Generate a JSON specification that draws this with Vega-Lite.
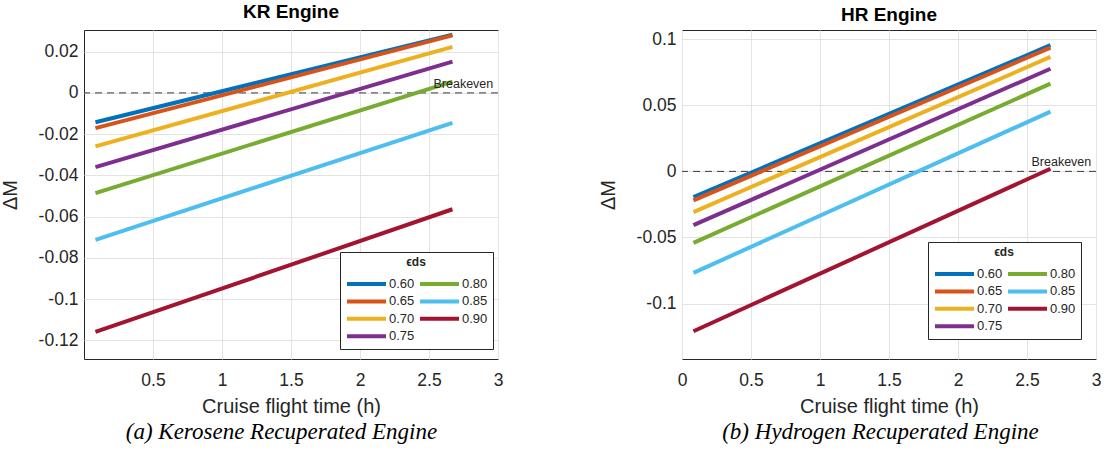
{
  "$schema": "https://vega.github.io/schema/vega-lite/v6.json",
  "padding": {"left": -1, "top": 2, "right": 5, "bottom": 5},
  "background": "white",
  "data": {"values": [
    {"engine": "KR", "eps": "0.60", "t": 0.083, "dM": -0.0142}, {"engine": "KR", "eps": "0.60", "t": 2.67, "dM": 0.0282},
    {"engine": "KR", "eps": "0.65", "t": 0.083, "dM": -0.0171}, {"engine": "KR", "eps": "0.65", "t": 2.67, "dM": 0.0279},
    {"engine": "KR", "eps": "0.70", "t": 0.083, "dM": -0.0259}, {"engine": "KR", "eps": "0.70", "t": 2.67, "dM": 0.0223},
    {"engine": "KR", "eps": "0.75", "t": 0.083, "dM": -0.0360}, {"engine": "KR", "eps": "0.75", "t": 2.67, "dM": 0.0152},
    {"engine": "KR", "eps": "0.80", "t": 0.083, "dM": -0.0486}, {"engine": "KR", "eps": "0.80", "t": 2.67, "dM": 0.0055},
    {"engine": "KR", "eps": "0.85", "t": 0.083, "dM": -0.0712}, {"engine": "KR", "eps": "0.85", "t": 2.67, "dM": -0.0145},
    {"engine": "KR", "eps": "0.90", "t": 0.083, "dM": -0.1159}, {"engine": "KR", "eps": "0.90", "t": 2.67, "dM": -0.0564},
    {"engine": "HR", "eps": "0.60", "t": 0.083, "dM": -0.0195}, {"engine": "HR", "eps": "0.60", "t": 2.67, "dM": 0.0955},
    {"engine": "HR", "eps": "0.65", "t": 0.083, "dM": -0.0220}, {"engine": "HR", "eps": "0.65", "t": 2.67, "dM": 0.0936},
    {"engine": "HR", "eps": "0.70", "t": 0.083, "dM": -0.0308}, {"engine": "HR", "eps": "0.70", "t": 2.67, "dM": 0.0866},
    {"engine": "HR", "eps": "0.75", "t": 0.083, "dM": -0.0407}, {"engine": "HR", "eps": "0.75", "t": 2.67, "dM": 0.0777},
    {"engine": "HR", "eps": "0.80", "t": 0.083, "dM": -0.0541}, {"engine": "HR", "eps": "0.80", "t": 2.67, "dM": 0.0664},
    {"engine": "HR", "eps": "0.85", "t": 0.083, "dM": -0.0768}, {"engine": "HR", "eps": "0.85", "t": 2.67, "dM": 0.0452},
    {"engine": "HR", "eps": "0.90", "t": 0.083, "dM": -0.1210}, {"engine": "HR", "eps": "0.90", "t": 2.67, "dM": 0.0020}
  ]},
  "config": {
    "font": "Liberation Sans",
    "view": {"stroke": "#262626", "strokeWidth": 1},
    "axis": {
      "domain": false, "ticks": false, "grid": true, "gridColor": "#e3e3e3", "labelFlush": false,
      "labelFont": "Liberation Sans", "labelFontSize": 17.5, "labelColor": "#262626",
      "titleFont": "Liberation Sans", "titleFontSize": 20, "titleFontWeight": "normal", "titleColor": "#262626"
    },
    "legend": {
      "orient": "none", "columns": 2,
      "titleFontSize": 12, "titleFontWeight": "bold", "titleAnchor": "middle", "titleAlign": "center", "titleColor": "#262626", "titlePadding": 8,
      "labelFontSize": 13, "labelColor": "#262626", "labelFont": "Liberation Sans",
      "symbolType": "stroke", "symbolStrokeWidth": 4, "symbolSize": 1521, "clipHeight": 14,
      "strokeColor": "#262626", "fillColor": "white", "padding": 5, "columnPadding": 3, "rowPadding": 3.4, "labelOffset": 1, "cornerRadius": 0
    },
    "title": {"font": "Liberation Sans", "fontSize": 19, "fontWeight": "bold", "color": "#000000"}
  },
  "spacing": 93,
  "resolve": {"scale": {"color": "independent"}, "legend": {"color": "independent"}},
  "hconcat": [
    {
      "title": {"text": "(a) Kerosene Recuperated Engine", "orient": "bottom", "font": "Liberation Serif", "fontStyle": "italic", "fontWeight": "normal", "fontSize": 23, "offset": 4, "anchor": "middle", "dx": 30},
      "vconcat": [
        {
          "width": 414, "height": 329,
          "title": {"text": "KR Engine", "frame": "group", "anchor": "middle", "offset": 5},
          "layer": [
            {
              "data": {"values": [{"label": "Breakeven"}]},
              "mark": {"type": "rule", "color": "#3a3a3a", "strokeWidth": 1, "strokeDash": [7, 5]},
              "encoding": {"y": {"datum": 0, "type": "quantitative", "scale": {"domain": [-0.129, 0.0305], "nice": false, "zero": false}}}
            },
            {
              "transform": [{"filter": "datum.engine === 'KR'"}],
              "mark": {"type": "line", "strokeWidth": 4, "strokeCap": "butt"},
              "encoding": {
                "x": {"field": "t", "type": "quantitative", "title": "Cruise flight time (h)",
                      "scale": {"domain": [0, 3], "nice": false, "zero": false},
                      "axis": {"values": [0.5, 1, 1.5, 2, 2.5, 3], "format": ".1~f", "labelPadding": 12, "titlePadding": 8}},
                "y": {"field": "dM", "type": "quantitative", "title": "ΔM",
                      "scale": {"domain": [-0.129, 0.0305], "nice": false, "zero": false},
                      "axis": {"values": [-0.12, -0.1, -0.08, -0.06, -0.04, -0.02, 0, 0.02], "labelExpr": "replace(format(datum.value, '.2~f'), '−', '-')", "labelPadding": 6, "titlePadding": 18}},
                "color": {"field": "eps", "type": "nominal",
                          "scale": {"domain": ["0.60", "0.65", "0.70", "0.75", "0.80", "0.85", "0.90"],
                                    "range": ["#0072BD", "#D95319", "#EDB120", "#7E2F8E", "#77AC30", "#4DBEEE", "#A2142F"]},
                          "legend": {"title": "ϵds", "legendX": 256, "legendY": 222}}
              }
            },
            {
              "data": {"values": [{"label": "Breakeven"}]},
              "mark": {"type": "text", "align": "right", "baseline": "bottom", "dy": -2, "dx": -2, "fontSize": 12.5, "color": "#262626"},
              "encoding": {"x": {"datum": 2.98, "type": "quantitative"}, "y": {"datum": 0, "type": "quantitative"}, "text": {"field": "label"}}
            }
          ]
        }
      ]
    },
    {
      "title": {"text": "(b) Hydrogen Recuperated Engine", "orient": "bottom", "font": "Liberation Serif", "fontStyle": "italic", "fontWeight": "normal", "fontSize": 23, "offset": 4, "anchor": "middle", "dx": 31},
      "vconcat": [
        {
          "width": 414, "height": 329,
          "title": {"text": "HR Engine", "frame": "group", "anchor": "middle", "offset": 5},
          "layer": [
            {
              "data": {"values": [{"label": "Breakeven"}]},
              "mark": {"type": "rule", "color": "#3a3a3a", "strokeWidth": 1, "strokeDash": [7, 5]},
              "encoding": {"y": {"datum": 0, "type": "quantitative", "scale": {"domain": [-0.142, 0.107], "nice": false, "zero": false}}}
            },
            {
              "transform": [{"filter": "datum.engine === 'HR'"}],
              "mark": {"type": "line", "strokeWidth": 4, "strokeCap": "butt"},
              "encoding": {
                "x": {"field": "t", "type": "quantitative", "title": "Cruise flight time (h)",
                      "scale": {"domain": [0, 3], "nice": false, "zero": false},
                      "axis": {"values": [0, 0.5, 1, 1.5, 2, 2.5, 3], "format": ".1~f", "labelPadding": 12, "titlePadding": 8}},
                "y": {"field": "dM", "type": "quantitative", "title": "ΔM",
                      "scale": {"domain": [-0.142, 0.107], "nice": false, "zero": false},
                      "axis": {"values": [-0.1, -0.05, 0, 0.05, 0.1], "labelExpr": "replace(format(datum.value, '.2~f'), '−', '-')", "labelPadding": 6, "titlePadding": 18}},
                "color": {"field": "eps", "type": "nominal",
                          "scale": {"domain": ["0.60", "0.65", "0.70", "0.75", "0.80", "0.85", "0.90"],
                                    "range": ["#0072BD", "#D95319", "#EDB120", "#7E2F8E", "#77AC30", "#4DBEEE", "#A2142F"]},
                          "legend": {"title": "ϵds", "legendX": 246, "legendY": 212}}
              }
            },
            {
              "data": {"values": [{"label": "Breakeven"}]},
              "mark": {"type": "text", "align": "right", "baseline": "bottom", "dy": -2, "dx": -2, "fontSize": 12.5, "color": "#262626"},
              "encoding": {"x": {"datum": 2.98, "type": "quantitative"}, "y": {"datum": 0, "type": "quantitative"}, "text": {"field": "label"}}
            }
          ]
        }
      ]
    }
  ]
}
